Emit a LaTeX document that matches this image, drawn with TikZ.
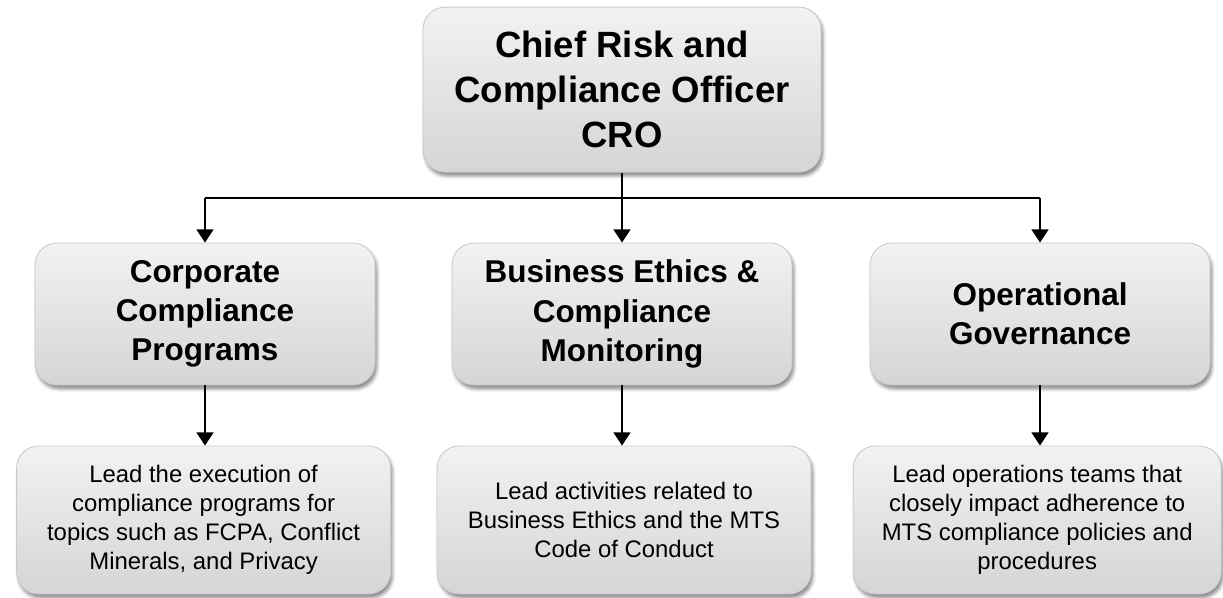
\documentclass[tikz,border=0pt]{standalone}
\usepackage{fontspec}
\setmainfont{Liberation Sans}
\usetikzlibrary{arrows.meta,shadows.blur}

\definecolor{boxtop}{HTML}{F2F2F2}
\definecolor{boxbottom}{HTML}{D5D5D5}
\definecolor{boxline}{HTML}{C9C9C9}

\begin{document}
\begin{tikzpicture}[
    box/.style={rectangle, rounded corners=0.55cm, draw=boxline, line width=0.6pt,
        top color=boxtop, bottom color=boxbottom, align=center, inner sep=0pt,
        blur shadow={shadow xshift=0.05cm, shadow yshift=-0.1cm, shadow blur radius=0.08cm, shadow opacity=45}},
    headbox/.style={box, minimum width=9.95cm, minimum height=4.125cm, font=\fontsize{26}{32.2}\selectfont\bfseries},
    unitbox/.style={box, minimum width=8.5cm, minimum height=3.55cm, font=\fontsize{22.4}{27.8}\selectfont\bfseries},
    notebox/.style={box, minimum width=9.35cm, minimum height=3.7cm, font=\fontsize{17}{20.5}\selectfont},
    link/.style={line width=0.055cm, black},
    arrow/.style={link, -{Triangle[width=0.42cm,length=0.33cm]}}
]
    \useasboundingbox (0,0) rectangle (30.575,-14.925);

    % Head of the function
    \node[headbox] (cro) at (15.55,-2.24) {Chief Risk and\\Compliance Officer\\CRO};

    % The three units reporting to the CRO
    \node[unitbox] (corp) at (5.125,-7.85) {Corporate\\Compliance\\Programs};
    \node[unitbox] (ethics) at (15.55,-7.85) {Business Ethics \&\\Compliance\\Monitoring};
    \node[unitbox] (ops) at (26.0,-7.85) {Operational\\Governance};

    % What each unit does
    \node[notebox] (leadcorp) at (5.09,-13.0) {Lead the execution of\\compliance programs for\\topics such as FCPA, Conflict\\Minerals, and Privacy};
    \node[notebox] (leadethics) at (15.6,-13.0) {Lead activities related to\\Business Ethics and the MTS\\Code of Conduct};
    \node[notebox, minimum width=9.2cm] (leadops) at (25.93,-13.0) {Lead operations teams that\\closely impact adherence to\\MTS compliance policies and\\procedures};

    % Branching lines
    \coordinate (bus) at (15.55,-4.95);
    \draw[link] (corp.north |- bus) -- (ops.north |- bus);
    \draw[arrow] (cro.south) -- (ethics.north);
    \draw[arrow] (corp.north |- bus) -- (corp.north);
    \draw[arrow] (ops.north |- bus) -- (ops.north);

    \draw[arrow] (corp.south) -- (corp.south |- leadcorp.north);
    \draw[arrow] (ethics.south) -- (ethics.south |- leadethics.north);
    \draw[arrow] (ops.south) -- (ops.south |- leadops.north);
\end{tikzpicture}
\end{document}
